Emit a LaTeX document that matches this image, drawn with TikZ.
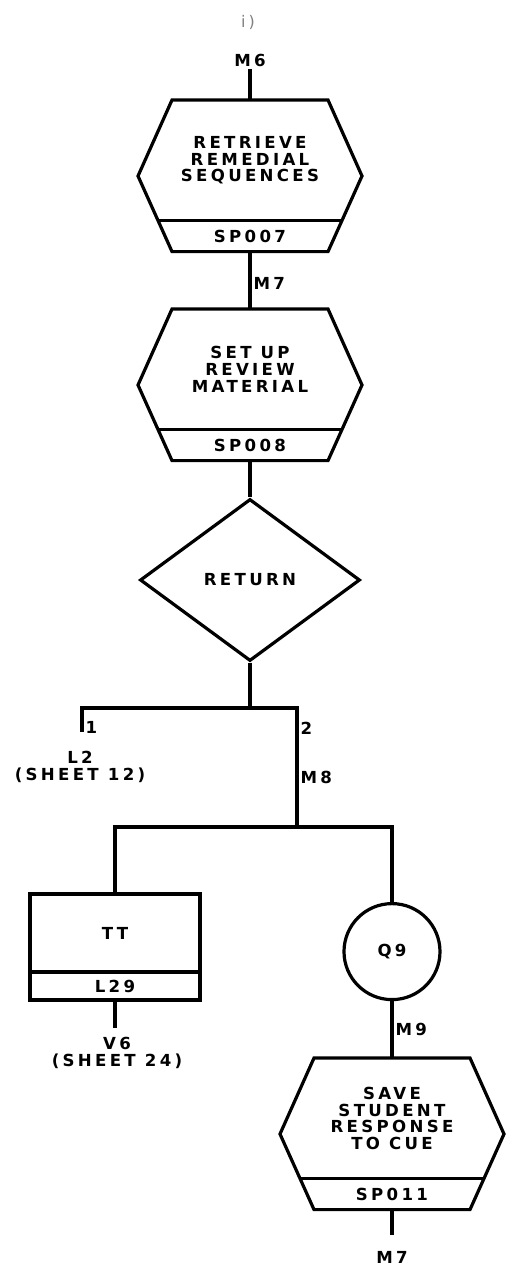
\documentclass[tikz,border=0pt]{standalone}
\usepackage{fontspec}
\setmainfont{DejaVu Sans}[LetterSpace=20]
\usepackage{tikz}
\usetikzlibrary{calc, positioning, shapes.geometric}

\tikzset{
	flow/.style={line width=1.6pt, line join=miter},
	lbl/.style={font=\fontsize{8.3}{8.3}\selectfont\bfseries, align=center, inner sep=1pt},
	hextext/.style={lbl, minimum width=112pt, minimum height=60pt, inner sep=0pt},
	hexcode/.style={lbl, minimum width=112pt, minimum height=15pt, inner sep=0pt},
	boxtext/.style={lbl, draw, flow, minimum width=85pt, inner sep=0pt, outer sep=0pt},
}

\begin{document}
\begin{tikzpicture}[x=0.5pt, y=-0.5pt]

% one unit is one pixel of the scanned sheet, y counts downwards
\useasboundingbox (0,0) rectangle (525,1270);

\def \hw{78}  % half width of a hexagon at top and bottom
\def \hm{112} % half width at its widest
\def \hd{92}  % half width at the dividing line

% hexagon round a text node #1 and its code node #2
\newcommand{\hexa}[2]{
	\draw[flow] ($(#1.north)+(-\hw,0)$) -- ($(#1.north)+(\hw,0)$)
		-- ($(#1.north)+(\hm,76)$) -- ($(#2.south)+(\hw,0)$)
		-- ($(#2.south)+(-\hw,0)$) -- ($(#1.north)+(-\hm,76)$) -- cycle;
	\draw[flow] ($(#1.south)+(-\hd,0)$) -- ($(#1.south)+(\hd,0)$);
}

\node[lbl, text=gray, font=\fontsize{8}{8}\selectfont] (mark) at (248,22) {i)};

% upper chain
\node[lbl] (m6) at (250,60) {M6};
\node[hextext, anchor=north] (retr) at (250,100) {RETRIEVE\\REMEDIAL\\SEQUENCES};
\node[hexcode, below=0pt of retr] (retrc) {SP007};
\hexa{retr}{retrc}

\node[hextext, anchor=north] (setup) at (250,309) {SET UP\\REVIEW\\MATERIAL};
\node[hexcode, below=0pt of setup] (setupc) {SP008};
\hexa{setup}{setupc}

\node[lbl, draw, flow, diamond, minimum width=110pt, minimum height=81pt] (rtn) at (250,580) {RETURN};

\draw[flow] (m6.south) -- (retr.north);
\draw[flow] (retrc.south) -- node[lbl, right, pos=0.56] (m7) {M7} (setup.north);
\draw[flow] (setupc.south) -- (rtn.north);

% branches
\coordinate (j1) at (250,708);
\coordinate (b1) at (82,708);
\coordinate (b1e) at (82,732);
\coordinate (b2) at (297,708);
\coordinate (j2) at (297,827);
\coordinate (c1) at (115,827);
\coordinate (c2) at (392,827);

\draw[flow] (rtn.south) -- (j1);
\draw[flow] (b1e) -- node[lbl, right, pos=0.2] (n1) {1} (b1) -- (b2)
	-- node[lbl, right, pos=0.17] (n2) {2} node[lbl, right, pos=0.58] (m8) {M8} (j2);
\node[lbl] (l2) at (80,767) {L2\\(SHEET 12)};

% left leg
\node[boxtext, minimum height=39pt, anchor=north] (tt) at (115,894) {TT};
\node[boxtext, minimum height=14pt, below=0pt of tt] (ttc) {L29};
\coordinate (v6e) at (115,1028);
\node[lbl] (v6) at (117,1053) {V6\\(SHEET 24)};
\draw[flow] (ttc.south) -- (v6e);

% right leg
\node[lbl, draw, flow, circle, minimum size=48pt, anchor=north] (q9) at (392,902) {Q9};
\node[hextext, anchor=north] (save) at (392,1058) {SAVE\\STUDENT\\RESPONSE\\TO CUE};
\node[hexcode, below=0pt of save] (savec) {SP011};
\hexa{save}{savec}
\coordinate (m7e) at (392,1235);
\node[lbl] (m7b) at (392,1257) {M7};

\draw[flow] (tt.north) -- (c1) -- (c2) -- (q9.north);
\draw[flow] (q9.south) -- node[lbl, right] (m9) {M9} (save.north);
\draw[flow] (savec.south) -- (m7e);

\end{tikzpicture}
\end{document}
